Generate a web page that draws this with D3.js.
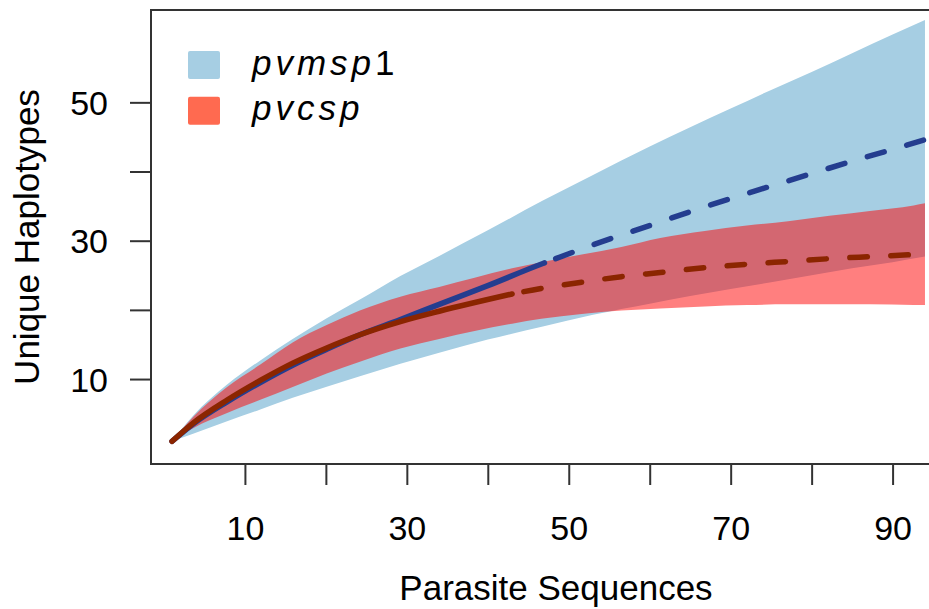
<!DOCTYPE html>
<html>
<head>
<meta charset="utf-8">
<script src="https://cdn.jsdelivr.net/npm/d3@7"></script>
<style>
  html, body { margin: 0; padding: 0; background: #fff; }
  svg { display: block; font-family: "Liberation Sans", Arial, Helvetica, sans-serif; }
</style>
</head>
<body>
<svg id="chart" width="929" height="609"></svg>
<script>
// ---------- data ----------
const seriesNames = ["pvmsp1", "pvcsp"];
const observedN = { pvmsp1: 47, pvcsp: 43 };

// pvmsp1 (blue)
const msp1X      = [1, 3.6, 7.8, 11.9, 15.9, 20.1, 24.2, 29.2, 34, 40, 46.8, 53, 60, 65, 70, 75, 80, 85, 90, 94];
const msp1Mid    = [1, 3.5, 6.7, 9.5, 12.0, 14.3, 16.4, 18.6, 20.8, 23.5, 26.7, 29.4, 32.2, 34.2, 36.1, 37.9, 39.7, 41.5, 43.2, 44.6];
const msp1Upper  = [1, 4.7, 9.2, 12.7, 15.8, 18.8, 21.5, 24.9, 27.8, 31.5, 35.8, 39.5, 43.6, 46.4, 49.1, 51.8, 54.4, 57.1, 59.8, 61.9];
const msp1Lower  = [1, 2.1, 3.9, 5.6, 7.3, 8.9, 10.4, 12.2, 13.8, 15.7, 17.6, 19.3, 20.9, 22.0, 23.0, 24.0, 25.0, 26.0, 26.9, 27.7];

// pvcsp (red)
const cspX       = [1, 3.6, 7.8, 11.9, 15.9, 20.1, 24.2, 29.2, 34, 43, 46.6, 51.6, 56.5, 61.3, 66.8, 72, 77.1, 82.2, 87.2, 92.6, 94];
const cspMid     = [1, 3.64, 6.97, 9.8, 12.3, 14.5, 16.4, 18.3, 19.8, 22.3, 23.1, 24.0, 24.8, 25.4, 26.1, 26.6, 27.0, 27.4, 27.7, 28.0, 28.1];
const cspUpper   = [1, 4.5, 8.85, 12.1, 15.3, 17.8, 19.9, 21.9, 23.3, 26.0, 26.9, 28.0, 29.1, 30.4, 31.4, 32.2, 32.8, 33.6, 34.3, 35.1, 35.4];
const cspLower   = [1, 2.9, 5.1, 7.0, 8.85, 10.8, 12.5, 14.4, 15.8, 18.0, 18.7, 19.4, 19.9, 20.2, 20.5, 20.7, 20.8, 20.8, 20.8, 20.7, 20.7];

const xTicks = [10, 20, 30, 40, 50, 60, 70, 80, 90];
const xTickLabels = [10, 30, 50, 70, 90];
const yTicks = [10, 20, 30, 40, 50];
const yTickLabels = [10, 30, 50];

// ---------- layout ----------
const svg = d3.select("#chart");
const box = { left: 151, top: 10, right: 961, bottom: 464 };

const x = d3.scaleLinear().domain([-1.6, 98.45]).range([box.left, box.right]);
const y = d3.scaleLinear().domain([-2.28, 63.35]).range([box.bottom, box.top]);

const colors = {
  msp1Band: "#a6cee3",
  cspBand: "rgba(255,0,0,0.5)",
  msp1Line: "#243d8f",
  cspLine: "#8b2500",
  msp1Legend: "#a6cee3",
  cspLegend: "#ff6a50",
  axis: "#333333"
};

function rows(xs, mid, lo, hi) {
  return xs.map((v, i) => ({ x: v, m: mid[i], lo: lo[i], hi: hi[i] }));
}
const msp1 = rows(msp1X, msp1Mid, msp1Lower, msp1Upper);
const csp = rows(cspX, cspMid, cspLower, cspUpper);

const area = d3.area()
  .x(d => x(d.x)).y0(d => y(d.lo)).y1(d => y(d.hi))
  .curve(d3.curveMonotoneX);
const line = d3.line()
  .x(d => x(d.x)).y(d => y(d.m))
  .curve(d3.curveMonotoneX);

// bands
svg.append("path").datum(msp1).attr("d", area).attr("fill", colors.msp1Band);
svg.append("path").datum(csp).attr("d", area).attr("fill", colors.cspBand);

// split each series at its observed sample size
function splitAt(data, n) {
  const interp = (a, b, t) => a + (b - a) * t;
  let i = data.findIndex(d => d.x >= n);
  const a = data[i - 1], b = data[i];
  const t = (n - a.x) / (b.x - a.x);
  const p = { x: n, m: interp(a.m, b.m, t) };
  const obs = data.slice(0, i).concat([p]);
  const ext = [p].concat(data.slice(b.x === n ? i + 1 : i));
  return { obs, ext };
}

function drawSeries(data, n, color) {
  const s = splitAt(data, n);
  svg.append("path").datum(s.obs).attr("d", line)
    .attr("fill", "none").attr("stroke", color).attr("stroke-width", 5.5)
    .attr("stroke-linecap", "round").attr("stroke-linejoin", "round");
  svg.append("path").datum(s.ext).attr("d", line)
    .attr("fill", "none").attr("stroke", color).attr("stroke-width", 5.5)
    .attr("stroke-linecap", "round").attr("stroke-dasharray", "17.5 23.5")
    .attr("stroke-dashoffset", -12);
}
drawSeries(msp1, observedN.pvmsp1, colors.msp1Line);
drawSeries(csp, observedN.pvcsp, colors.cspLine);

// box
svg.append("rect")
  .attr("x", box.left).attr("y", box.top)
  .attr("width", box.right - box.left).attr("height", box.bottom - box.top)
  .attr("fill", "none").attr("stroke", colors.axis).attr("stroke-width", 2);

// x axis
const xAxis = d3.axisBottom(x).tickValues(xTicks).tickSize(21).tickPadding(8)
  .tickFormat(d => xTickLabels.includes(d) ? d : "");
const gx = svg.append("g").attr("transform", `translate(0,${box.bottom})`).call(xAxis);
gx.select(".domain").remove();
gx.selectAll(".tick line").attr("stroke", colors.axis).attr("stroke-width", 2);
gx.selectAll(".tick text").attr("fill", "#000").attr("font-size", 34)
  .attr("font-family", "Liberation Sans, Arial, sans-serif")
  .attr("dy", null).attr("y", 76);

// y axis
const yAxis = d3.axisLeft(y).tickValues(yTicks).tickSize(21).tickPadding(8)
  .tickFormat(d => yTickLabels.includes(d) ? d : "");
const gy = svg.append("g").attr("transform", `translate(${box.left},0)`).call(yAxis);
gy.select(".domain").remove();
gy.selectAll(".tick line").attr("stroke", colors.axis).attr("stroke-width", 2);
gy.selectAll(".tick text").attr("fill", "#000").attr("font-size", 34)
  .attr("font-family", "Liberation Sans, Arial, sans-serif")
  .attr("x", -43).attr("dy", "0.36em");

// axis titles
svg.append("text").attr("x", 556).attr("y", 599.5)
  .attr("text-anchor", "middle").attr("font-size", 35).attr("fill", "#000")
  .text("Parasite Sequences");
svg.append("text")
  .attr("transform", "translate(38.5,237) rotate(-90)")
  .attr("text-anchor", "middle").attr("font-size", 35).attr("fill", "#000")
  .text("Unique Haplotypes");

// legend
const legend = [
  { name: seriesNames[0], italic: "pvmsp", plain: "1", color: colors.msp1Legend },
  { name: seriesNames[1], italic: "pvcsp", plain: "", color: colors.cspLegend }
];
legend.forEach((l, i) => {
  const y0 = 51 + i * 45.7;
  svg.append("rect").attr("x", 188).attr("y", y0).attr("width", 32).attr("height", 28)
    .attr("rx", 2).attr("fill", l.color);
  const t = svg.append("text").attr("x", 252).attr("y", 74.5 + i * 45.7)
    .attr("font-size", 35).attr("fill", "#000").attr("letter-spacing", "4px");
  t.append("tspan").attr("font-style", "italic").text(l.italic);
  if (l.plain) t.append("tspan").text(l.plain);
});
</script>
</body>
</html>
